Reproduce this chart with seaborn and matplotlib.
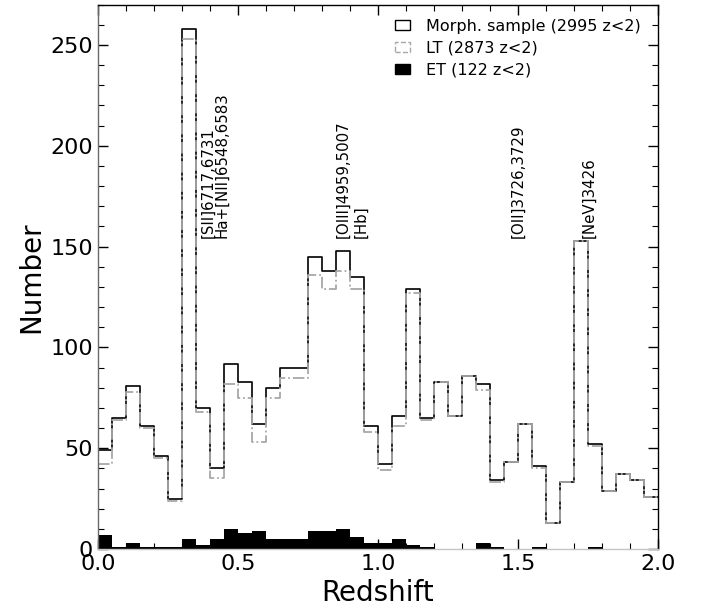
import numpy as np
import pandas as pd
import matplotlib
matplotlib.use("Agg")
import matplotlib.pyplot as plt
from matplotlib.patches import Patch
from matplotlib.ticker import MultipleLocator, FormatStrFormatter
import seaborn as sns

# Redshift bins: 0.05 wide from 0 to 2
bin_width = 0.05
z_range = (0.0, 2.0)
bin_centers = np.arange(40) * bin_width + bin_width / 2

# Galaxy counts per redshift bin
morph_counts = [49, 65, 81, 61, 46, 25, 258, 70, 40, 92,
                83, 62, 80, 90, 90, 145, 138, 148, 135, 61,
                42, 66, 129, 65, 83, 66, 86, 82, 34, 43,
                62, 41, 13, 33, 153, 52, 29, 37, 34, 26]
lt_counts = [42, 64, 78, 60, 45, 24, 253, 68, 35, 82,
             75, 53, 75, 85, 85, 136, 129, 138, 129, 58,
             39, 61, 127, 64, 83, 66, 86, 79, 33, 43,
             62, 40, 13, 33, 153, 51, 29, 37, 34, 26]
et_counts = [7, 1, 3, 1, 1, 1, 5, 2, 5, 10,
             8, 9, 5, 5, 5, 9, 9, 10, 6, 3,
             3, 5, 2, 1, 0, 0, 0, 3, 1, 0,
             0, 1, 0, 0, 0, 1, 0, 0, 0, 0]

series_labels = ["Morph. sample (2995 z<2)", "LT (2873 z<2)", "ET (122 z<2)"]

# Emission lines falling on the sky-line features
line_labels = ["[SII]6717,6731", "Ha+[NII]6548,6583", "[OIII]4959,5007",
               "[Hb]", "[OII]3726,3729", "[NeV]3426"]
line_label_x = [0.393, 0.441, 0.875, 0.938, 1.500, 1.755]
line_label_y = 154

df = pd.DataFrame({"z": bin_centers, "morph": morph_counts,
                   "lt": lt_counts, "et": et_counts})

sns.set_style("ticks")
plt.rcParams["font.family"] = ["DejaVu Sans"]
plt.rcParams.update({"text.color": "black", "axes.labelcolor": "black",
                     "xtick.color": "black", "ytick.color": "black"})

fig = plt.figure(figsize=(7.03, 6.13), dpi=100)
ax = fig.add_axes([0.1394, 0.1044, 0.7966, 0.8881])

hist_kws = dict(data=df, x="z", binwidth=bin_width, binrange=z_range,
                element="step", ax=ax)
sns.histplot(weights="morph", fill=False, color="black", linewidth=1.2,
             **hist_kws)
sns.histplot(weights="lt", fill=False, color="#a8a8a8", linewidth=1.3,
             linestyle="-.", **hist_kws)
sns.histplot(weights="et", fill=True, color="black", alpha=1.0, linewidth=0,
             **hist_kws)

for text, xpos in zip(line_labels, line_label_x):
    ax.text(xpos, line_label_y, text, rotation=90, ha="center", va="bottom",
            fontsize=10.8, color="black")

ax.set_xlim(*z_range)
ax.set_ylim(0, 270)
ax.xaxis.set_major_locator(MultipleLocator(0.5))
ax.xaxis.set_minor_locator(MultipleLocator(0.1))
ax.yaxis.set_major_locator(MultipleLocator(50))
ax.yaxis.set_minor_locator(MultipleLocator(10))
ax.xaxis.set_major_formatter(FormatStrFormatter("%.1f"))
ax.tick_params(which="both", direction="in", top=True, right=True,
               colors="black", labelcolor="black", labelsize=16)
ax.tick_params(which="major", length=7, width=1)
ax.tick_params(which="minor", length=4, width=0.8)
for side in ["top", "right"]:
    ax.spines[side].set_color("black")
    ax.spines[side].set_linewidth(1.0)
ax.spines["left"].set_color("#6a6a6a")
ax.spines["left"].set_linewidth(1.0)
ax.spines["bottom"].set_color("#c4c4c4")
ax.spines["bottom"].set_linewidth(1.0)

ax.set_xlabel("Redshift", fontsize=20, color="black")
ax.set_ylabel("Number", fontsize=20, color="black")

handles = [
    Patch(facecolor="white", edgecolor="black", linewidth=1.0),
    Patch(facecolor="white", edgecolor="#a8a8a8", linewidth=1.0, linestyle="--"),
    Patch(facecolor="black", edgecolor="black", linewidth=1.0),
]
leg = ax.legend(handles, series_labels, loc="upper right", frameon=False,
                fontsize=11.5, handlelength=0.95, handleheight=0.6,
                handletextpad=1.0, labelspacing=0.42,
                bbox_to_anchor=(0.995, 1.0), borderaxespad=0.5)
for t in leg.get_texts():
    t.set_color("black")

fig.savefig("out.png", dpi=100)
